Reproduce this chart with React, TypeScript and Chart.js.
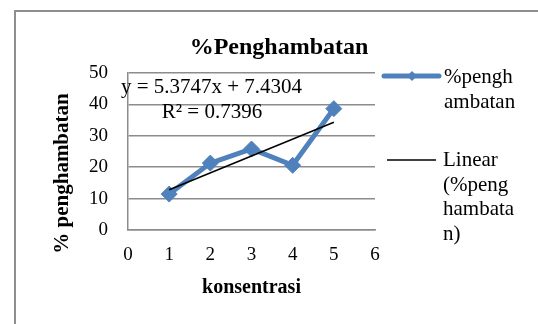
import React, { useEffect, useRef } from "react";
import { Chart, registerables } from "chart.js";

Chart.register(...registerables);

const X_VALUES = [1, 2, 3, 4, 5];
const Y_VALUES = [11.45, 21.3, 25.8, 20.6, 38.65];
const X_TICKS = [0, 1, 2, 3, 4, 5, 6];
const Y_TICKS = [0, 10, 20, 30, 40, 50];
const TREND_SLOPE = 5.3747;
const TREND_INTERCEPT = 7.4304;
const TREND_R2 = 0.7396;
const TITLE = "%Penghambatan";
const X_TITLE = "konsentrasi";
const Y_TITLE = "% penghambatan";
const SERIES_LEGEND = ["%pengh", "ambatan"];
const TREND_LEGEND = ["Linear", "(%peng", "hambata", "n)"];

const BLUE = "#4F81BD";
const GRID = "#8c8c8c";
const FONT = "'Liberation Serif', 'DejaVu Serif', serif";

const trendX = [Math.min(...X_VALUES), Math.max(...X_VALUES)];

const overlayPlugin = {
  id: "overlay",
  afterDraw(chart: any) {
    const ctx = chart.ctx as CanvasRenderingContext2D;
    const a = chart.chartArea;
    ctx.save();
    ctx.fillStyle = "#000";
    // title
    ctx.font = `bold 24px ${FONT}`;
    ctx.textAlign = "center";
    ctx.textBaseline = "alphabetic";
    ctx.fillText(TITLE, 279, 54);
    // x title
    ctx.font = `bold 20px ${FONT}`;
    ctx.fillText(X_TITLE, (a.left + a.right) / 2, 293);
    // y title
    ctx.save();
    ctx.font = `bold 21px ${FONT}`;
    ctx.translate(63, (a.top + a.bottom) / 2 + 22);
    ctx.rotate(-Math.PI / 2);
    ctx.textBaseline = "middle";
    ctx.fillText(Y_TITLE, 0, 0);
    ctx.restore();
    // equation
    ctx.font = `21px ${FONT}`;
    ctx.textAlign = "center";
    ctx.textBaseline = "alphabetic";
    const sign = TREND_INTERCEPT >= 0 ? "+" : "-";
    ctx.fillText(
      `y = ${TREND_SLOPE.toFixed(4)}x ${sign} ${Math.abs(TREND_INTERCEPT).toFixed(4)}`,
      211.5,
      93
    );
    ctx.fillText(`R\u00B2 = ${TREND_R2.toFixed(4)}`, 212, 118);
    // legend
    ctx.textAlign = "left";
    ctx.font = `21px ${FONT}`;
    // item 1
    ctx.strokeStyle = BLUE;
    ctx.lineWidth = 5;
    ctx.lineCap = "round";
    ctx.beginPath();
    ctx.moveTo(384, 76);
    ctx.lineTo(439, 76);
    ctx.stroke();
    ctx.fillStyle = BLUE;
    ctx.beginPath();
    ctx.moveTo(412 - 5, 76);
    ctx.lineTo(412, 71);
    ctx.lineTo(412 + 5, 76);
    ctx.lineTo(412, 81);
    ctx.closePath();
    ctx.fill();
    ctx.fillStyle = "#000";
    SERIES_LEGEND.forEach((t, i) => ctx.fillText(t, 444, 83 + i * 25));
    // item 2
    ctx.strokeStyle = "#000";
    ctx.lineWidth = 1.5;
    ctx.lineCap = "butt";
    ctx.beginPath();
    ctx.moveTo(387, 160);
    ctx.lineTo(436, 160);
    ctx.stroke();
    TREND_LEGEND.forEach((t, i) => ctx.fillText(t, 443, 166 + i * 24.7));
    ctx.restore();
  },
};

export default function App() {
  const ref = useRef<HTMLCanvasElement | null>(null);
  useEffect(() => {
    if (!ref.current) return;
    const chart = new Chart(ref.current, {
      type: "scatter",
      data: {
        datasets: [
          {
            label: "%penghambatan",
            data: X_VALUES.map((x, i) => ({ x, y: Y_VALUES[i] })),
            showLine: true,
            borderColor: BLUE,
            backgroundColor: BLUE,
            borderWidth: 5,
            pointStyle: "rectRot",
            pointRadius: 8,
            pointBorderWidth: 1,
            pointBorderColor: BLUE,
            pointBackgroundColor: BLUE,
            order: 2,
          },
          {
            label: "Linear (%penghambatan)",
            data: trendX.map((x) => ({ x, y: TREND_SLOPE * x + TREND_INTERCEPT })),
            showLine: true,
            borderColor: "#000",
            borderWidth: 1.5,
            pointRadius: 0,
            order: 1,
          },
        ],
      },
      options: {
        animation: false,
        responsive: true,
        maintainAspectRatio: false,
        layout: { padding: { left: 0, top: 73, right: 163, bottom: 0 } },
        plugins: {
          legend: { display: false },
          title: { display: false },
          tooltip: { enabled: false },
        },
        scales: {
          x: {
            type: "linear",
            min: X_TICKS[0],
            max: X_TICKS[X_TICKS.length - 1],
            afterBuildTicks: (s: any) => {
              s.ticks = X_TICKS.map((v) => ({ value: v }));
            },
            afterFit: (s: any) => {
              s.height = 94;
            },
            grid: { display: false, drawTicks: false },
            border: { display: true, color: GRID, width: 1.5 },
            ticks: {
              padding: 14,
              color: "#000",
              font: { family: FONT, size: 19 },
            },
          },
          y: {
            type: "linear",
            min: Y_TICKS[0],
            max: Y_TICKS[Y_TICKS.length - 1],
            afterBuildTicks: (s: any) => {
              s.ticks = Y_TICKS.map((v) => ({ value: v }));
            },
            afterFit: (s: any) => {
              s.width = 128;
            },
            grid: { display: true, color: GRID, lineWidth: 1.5, drawTicks: false },
            border: { display: true, color: GRID, width: 1.5 },
            ticks: {
              padding: 20,
              color: "#000",
              font: { family: FONT, size: 19 },
            },
          },
        },
      },
      plugins: [overlayPlugin],
    });
    return () => chart.destroy();
  }, []);

  return (
    <div
      style={{
        position: "fixed",
        left: 0,
        top: 0,
        width: 538,
        height: 324,
        overflow: "hidden",
        background: "#fff",
      }}
    >
      <div
        style={{
          position: "absolute",
          left: 14,
          top: 10,
          width: 600,
          height: 400,
          border: "2px solid #8e8e8e",
          boxSizing: "border-box",
        }}
      />
      <div style={{ position: "absolute", left: 0, top: 0, width: 538, height: 324 }}>
        <canvas ref={ref} />
      </div>
    </div>
  );
}
